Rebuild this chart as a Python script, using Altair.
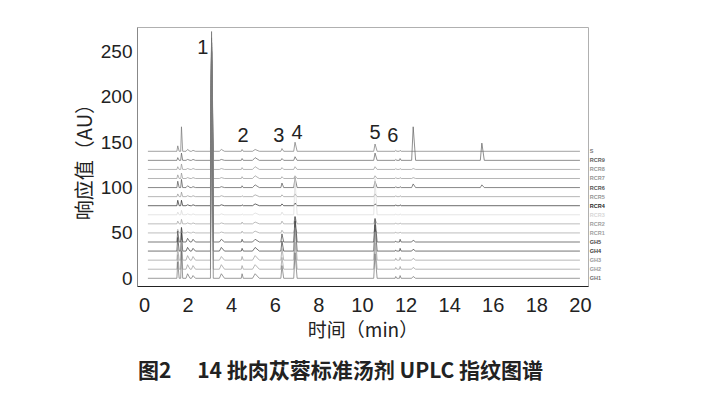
import altair as alt
import pandas as pd

# ---- data ----
trace_names = ["S", "RCR9", "RCR8", "RCR7", "RCR6", "RCR5", "RCR4", "RCR3",
               "RCR2", "RCR1", "GH5", "GH4", "GH3", "GH2", "GH1"]
trace_offsets = [140, 130, 120, 110, 100, 90, 80, 70, 60, 50, 40, 30, 20, 10, 0]
trace_colors = ["#777777", "#5e5e5e", "#959595", "#959595", "#555555", "#959595",
                "#2a2a2a", "#d8d8d8", "#a0a0a0", "#a0a0a0", "#444444", "#3a3a3a",
                "#999999", "#999999", "#707070"]
trace_widths = [0.7, 0.7, 0.6, 0.6, 0.8, 0.6, 1.3, 0.6, 0.6, 0.6, 0.7, 0.7, 0.6, 0.6, 0.7]

t_start = 0.18
t_end = 20.0

# retention times (min) and peak half widths (left side)
peak_t = [1.55, 1.72, 2.00, 2.25, 3.10, 3.55, 4.50, 5.10, 6.33, 6.93, 10.60, 11.55, 11.75, 12.35, 15.50]
peak_w = [0.04, 0.035, 0.07, 0.07, 0.05, 0.09, 0.035, 0.12, 0.05, 0.06, 0.06, 0.03, 0.03, 0.07, 0.07]

# peak heights above each trace's baseline (one row per trace, top to bottom)
peak_h = [
    [6, 27, 2, 1, 125, 2, 2, 2, 3, 10, 8, 1, 1, 0, 0],
    [3, 8, 1, 1, 130, 1, 2, 3, 2, 4, 8, 1, 2, 37, 19],
    [3, 6, 1, 1, 140, 1, 2, 3, 2, 3, 3, 1, 1, 1, 0],
    [4, 6, 1, 1, 150, 1, 2, 3, 2, 3, 3, 1, 1, 1, 0],
    [7, 9, 2, 1, 155, 1, 2, 3, 5, 11, 7, 1, 1, 4, 3],
    [3, 5, 1, 1, 160, 1, 1, 2, 2, 3, 3, 1, 1, 0, 0],
    [6, 6, 1, 1, 170, 1, 1, 2, 2, 3, 2, 1, 1, 0, 0],
    [3, 5, 1, 1, 175, 1, 1, 2, 3, 40, 40, 1, 1, 0, 0],
    [3, 5, 1, 1, 180, 1, 2, 2, 3, 8, 5, 1, 1, 0, 0],
    [4, 6, 1, 1, 190, 1, 2, 2, 3, 6, 4, 1, 1, 0, 0],
    [12, 16, 4, 3, 200, 3, 3, 3, 9, 28, 26, 1, 3, 2, 0],
    [15, 20, 4, 3, 220, 4, 3, 4, 11, 33, 29, 1, 3, 2, 0],
    [14, 22, 5, 4, 235, 4, 4, 5, 13, 36, 31, 2, 3, 2, 0],
    [16, 26, 5, 4, 250, 5, 4, 5, 13, 30, 29, 2, 3, 2, 0],
    [18, 30, 5, 3, 272, 5, 5, 5, 14, 28, 27, 2, 3, 2, 0],
]
tail = 1.6  # right side of a peak is wider than the left (tailing)

peak_labels = ["1", "2", "3", "4", "5", "6"]
peak_label_t = [2.70, 4.54, 6.19, 7.02, 10.60, 11.42]
peak_label_y = [254, 157, 157, 160, 160, 157]

label_t = 20.45

x_ticks = list(range(0, 21, 2))
y_ticks = [0, 50, 100, 150, 200, 250]

# ---- build tables ----
rows = []
for name, off, hs in zip(trace_names, trace_offsets, peak_h):
    rows.append({"name": name, "t": t_start, "v": off})
    for t, w, h in zip(peak_t, peak_w, hs):
        if h <= 0:
            continue
        rows.append({"name": name, "t": t - w, "v": off})
        rows.append({"name": name, "t": t, "v": off + h})
        rows.append({"name": name, "t": t + w * tail, "v": off})
    rows.append({"name": name, "t": t_end, "v": off})
df = pd.DataFrame(rows)

df_names = pd.DataFrame({"name": trace_names, "t": label_t, "v": trace_offsets})
df_peaks = pd.DataFrame({"lab": peak_labels, "t": peak_label_t, "v": peak_label_y})

xs = alt.Scale(domain=[-0.32, 20.37], nice=False, zero=False)
ys = alt.Scale(domain=[-8.5, 277], nice=False, zero=False)
col = alt.Scale(domain=trace_names, range=trace_colors)

lines = alt.Chart(df).mark_line(interpolate="linear", clip=True).encode(
    x=alt.X("t:Q", scale=xs, axis=alt.Axis(
        values=x_ticks, title="时间（min）", grid=False, ticks=False,
        labelPadding=9, labelFontSize=20, labelFont="Liberation Sans",
        labelColor="#222", domainColor="#222", domainWidth=1.2,
        titleFont="Noto Sans CJK SC", titleFontSize=19, titleFontWeight="normal",
        titleColor="#222", titleY=44, titleBaseline="middle")),
    y=alt.Y("v:Q", scale=ys, axis=alt.Axis(
        values=y_ticks, title="响应值（AU）", grid=False, ticks=False,
        labelPadding=5, labelFontSize=19, labelFont="Liberation Sans",
        labelColor="#222", domainColor="#888",
        titleFont="Noto Sans CJK SC", titleFontSize=20, titleFontWeight="normal",
        titleColor="#222", titleX=-52, titleY=129.5, titleAngle=-90,
        titleAlign="center", titleBaseline="middle")),
    color=alt.Color("name:N", scale=col, legend=None),
    strokeWidth=alt.StrokeWidth("name:N", scale=alt.Scale(domain=trace_names, range=trace_widths), legend=None),
    detail="name:N",
    order=alt.Order("t:Q"),
)

names = alt.Chart(df_names).mark_text(
    align="left", baseline="middle", fontSize=5.5, fontWeight="bold",
    font="Liberation Sans", clip=False
).encode(
    x=alt.X("t:Q", scale=xs),
    y=alt.Y("v:Q", scale=ys),
    text="name:N",
    color=alt.Color("name:N", scale=col, legend=None),
)

plabels = alt.Chart(df_peaks).mark_text(
    align="center", baseline="middle", fontSize=20, font="Liberation Sans", color="#222"
).encode(
    x=alt.X("t:Q", scale=xs),
    y=alt.Y("v:Q", scale=ys),
    text="lab:N",
)

chart = alt.layer(lines, names, plabels).properties(
    width=451, height=259,
    autosize="none",
    padding={"left": 129, "top": 19, "right": 108, "bottom": 108},
    title=alt.TitleParams(
        "图2　 14 批肉苁蓉标准汤剂 UPLC 指纹图谱",
        orient="bottom", anchor="middle", offset=21, dx=-22,
        font="Noto Sans CJK SC", fontSize=21, fontWeight="bold", color="#222",
    ),
).configure_view(stroke="#b0b0b0", strokeWidth=1)

chart.save("out.html", embed_options={"renderer": "svg", "actions": False})
